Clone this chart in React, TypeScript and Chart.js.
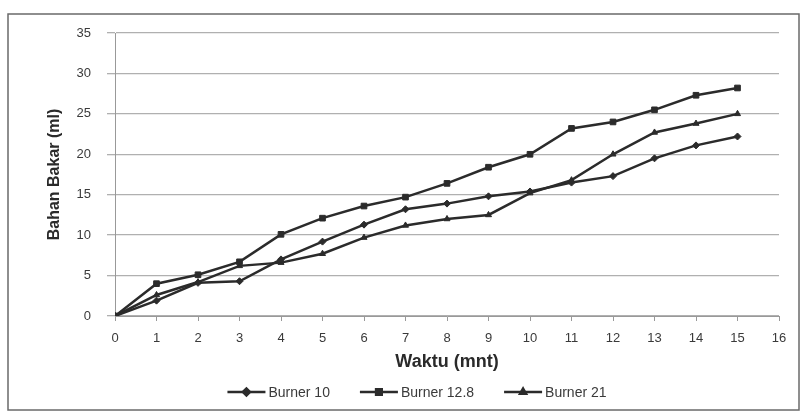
import React, { useEffect, useRef } from "react";
import { Chart, registerables } from "chart.js";
import { drawPoint } from "chart.js/helpers";

Chart.register(...registerables);

const waktu = [0, 1, 2, 3, 4, 5, 6, 7, 8, 9, 10, 11, 12, 13, 14, 15];
const burner10 = [0, 1.9, 4.1, 4.3, 7.0, 9.2, 11.3, 13.2, 13.9, 14.8, 15.4, 16.5, 17.3, 19.5, 21.1, 22.2];
const burner128 = [0, 4.0, 5.1, 6.7, 10.1, 12.1, 13.6, 14.7, 16.4, 18.4, 20.0, 23.2, 24.0, 25.5, 27.3, 28.2];
const burner21 = [0, 2.6, 4.2, 6.2, 6.6, 7.7, 9.7, 11.2, 12.0, 12.5, 15.2, 16.8, 20.0, 22.7, 23.8, 25.0];

const seriesLabels = ["Burner 10", "Burner 12.8", "Burner 21"];
const xTitle = "Waktu (mnt)";
const yTitle = "Bahan Bakar (ml)";

const LINE = "#2b2b2b";
const GRID = "#b0b0b0";
const TEXT = "#3a3a3a";
const FONT = "'Liberation Sans', Arial, sans-serif";

const frame = {
  id: "frame",
  beforeDraw(chart: any) {
    const { ctx, width, height } = chart;
    ctx.save();
    ctx.fillStyle = "#ffffff";
    ctx.fillRect(0, 0, width, height);
    ctx.restore();
  },
  afterDraw(chart: any) {
    const { ctx } = chart;
    ctx.save();
    ctx.strokeStyle = "#6a6a6a";
    ctx.lineWidth = 1.5;
    ctx.strokeRect(8, 14, 791, 396);
    ctx.restore();
  },
};

const legendPlugin = {
  id: "customLegend",
  afterDraw(chart: any) {
    const { ctx } = chart;
    const ds = chart.data.datasets;
    ctx.save();
    ctx.font = `14px ${FONT}`;
    const lineW = 38;
    const gap = 3;
    const itemGap = 30;
    const widths = ds.map((d: any) => lineW + gap + ctx.measureText(d.label).width);
    const total = widths.reduce((a: number, b: number) => a + b, 0) + itemGap * (ds.length - 1);
    let x = 417 - total / 2;
    const y = 392;
    ds.forEach((d: any, i: number) => {
      ctx.strokeStyle = LINE;
      ctx.lineWidth = 2.5;
      ctx.beginPath();
      ctx.moveTo(x, y);
      ctx.lineTo(x + lineW, y);
      ctx.stroke();
      ctx.fillStyle = LINE;
      drawPoint(
        ctx,
        { pointStyle: d.pointStyle, radius: d.pointRadius, borderWidth: 1, rotation: 0 } as any,
        x + lineW / 2,
        y
      );
      ctx.fillStyle = TEXT;
      ctx.textBaseline = "middle";
      ctx.textAlign = "left";
      ctx.fillText(d.label, x + lineW + gap, y + 1);
      x += widths[i] + itemGap;
    });
    ctx.restore();
  },
};

function toPoints(vals: number[]) {
  return vals.map((v, i) => ({ x: waktu[i], y: v }));
}

export default function App() {
  const ref = useRef<HTMLCanvasElement | null>(null);
  useEffect(() => {
    if (!ref.current) return;
    const mk = (label: string, vals: number[], style: string, r: number) => ({
      label,
      data: toPoints(vals),
      borderColor: LINE,
      backgroundColor: LINE,
      borderWidth: 2.5,
      pointStyle: style,
      pointRadius: r,
      pointBorderWidth: 1,
      pointBackgroundColor: LINE,
      pointBorderColor: LINE,
      tension: 0,
    });
    const chart = new Chart(ref.current, {
      type: "line",
      data: {
        datasets: [
          mk(seriesLabels[0], burner10, "rectRot", 3.5),
          mk(seriesLabels[1], burner128, "rect", 4),
          mk(seriesLabels[2], burner21, "triangle", 3.5),
        ],
      },
      options: {
        responsive: false,
        animation: false,
        layout: { padding: { top: 33, right: 26, bottom: 0, left: 0 } },
        plugins: {
          legend: { display: false },
          tooltip: { enabled: false },
        },
        scales: {
          x: {
            type: "linear",
            min: 0,
            max: 16,
            afterFit: (s: any) => {
              s.height = 98;
            },
            ticks: {
              stepSize: 1,
              color: TEXT,
              font: { family: FONT, size: 13 },
              padding: 10,
              maxRotation: 0,
              autoSkip: false,
            },
            grid: {
              drawOnChartArea: false,
              drawTicks: true,
              tickLength: 5,
              color: "#999999",
            },
            border: { color: "#999999", width: 1 },
            title: {
              display: true,
              text: xTitle,
              color: "#2a2a2a",
              font: { family: FONT, size: 18, weight: "bold" },
              padding: { top: 0, bottom: 41 },
            },
          },
          y: {
            min: 0,
            max: 35,
            afterFit: (s: any) => {
              s.width = 115;
            },
            ticks: {
              stepSize: 5,
              color: TEXT,
              font: { family: FONT, size: 13 },
              padding: 16,
            },
            grid: {
              color: GRID,
              lineWidth: 1.3,
              tickLength: 8,
            },
            border: { color: "#999999", width: 1 },
            title: {
              display: true,
              text: yTitle,
              color: "#2a2a2a",
              font: { family: FONT, size: 16, weight: "bold" },
              padding: { top: 45, bottom: 0 },
            },
          },
        },
      },
      plugins: [frame, legendPlugin],
    } as any);
    return () => chart.destroy();
  }, []);
  return (
    <div style={{ position: "fixed", left: 0, top: 0, width: 805, height: 414 }}>
      <canvas ref={ref} width={805} height={414} style={{ width: 805, height: 414 }} />
    </div>
  );
}
